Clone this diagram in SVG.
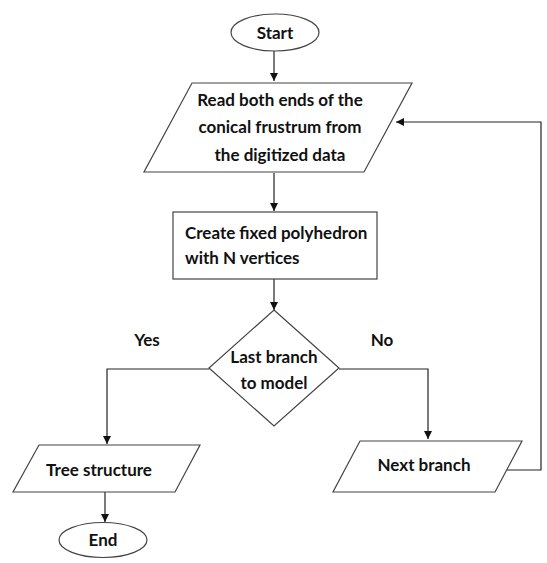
<svg xmlns="http://www.w3.org/2000/svg" width="547" height="563" viewBox="0 0 547 563">
<defs>
<marker id="arr" viewBox="0 0 10 10" refX="10" refY="5" markerWidth="8" markerHeight="8" markerUnits="userSpaceOnUse" orient="auto">
<path d="M0,0 L10,5 L0,10 z" fill="#111"/>
</marker>
</defs>
<style>
.shape{fill:#fff;stroke:#444;stroke-width:1.2}
.conn{fill:none;stroke:#222;stroke-width:1.2}
text{font-family:Lato,"Liberation Sans",sans-serif;font-weight:bold;font-size:17px;fill:#111}
.c{text-anchor:middle}
</style>
<rect width="547" height="563" fill="#fff"/>
<g id="connectors">
<path class="conn" d="M274,51 V81" marker-end="url(#arr)"/>
<path class="conn" d="M274,173 V211" marker-end="url(#arr)"/>
<path class="conn" d="M274,279 V310" marker-end="url(#arr)"/>
<path class="conn" d="M209,369 H107 V444" marker-end="url(#arr)"/>
<path class="conn" d="M339,369 H428 V439" marker-end="url(#arr)"/>
<path class="conn" d="M507,470 H541 V122 H396" marker-end="url(#arr)"/>
<path class="conn" d="M105,492 V522" marker-end="url(#arr)"/>
</g>
<g id="start">
<ellipse class="shape" cx="275" cy="32.5" rx="44" ry="18.5"/>
<text class="c" x="275" y="38.5">Start</text>
</g>
<g id="read">
<polygon class="shape" points="192,83 412,83 364,172 144,172"/>
<text class="c" x="280" y="106">Read both ends of the</text>
<text class="c" x="280" y="133">conical frustrum from</text>
<text class="c" x="280" y="161">the digitized data</text>
</g>
<g id="create">
<rect class="shape" x="173" y="212" width="204" height="67"/>
<text x="185" y="239">Create fixed polyhedron</text>
<text x="185" y="264">with N vertices</text>
</g>
<g id="decision">
<polygon class="shape" points="274,310 339,368 274,426 209,368"/>
<text class="c" x="274" y="363">Last branch</text>
<text class="c" x="274" y="389">to model</text>
</g>
<g id="labels">
<text class="c" x="147" y="346">Yes</text>
<text class="c" x="382" y="346">No</text>
</g>
<g id="tree">
<polygon class="shape" points="39,445 200,445 175,492 13,492"/>
<text class="c" x="99" y="476">Tree structure</text>
</g>
<g id="next">
<polygon class="shape" points="360,441 522,441 495,492 333,492"/>
<text class="c" x="424" y="471">Next branch</text>
</g>
<g id="end">
<ellipse class="shape" cx="103" cy="540" rx="44" ry="17.5"/>
<text class="c" x="103" y="546">End</text>
</g>
</svg>
